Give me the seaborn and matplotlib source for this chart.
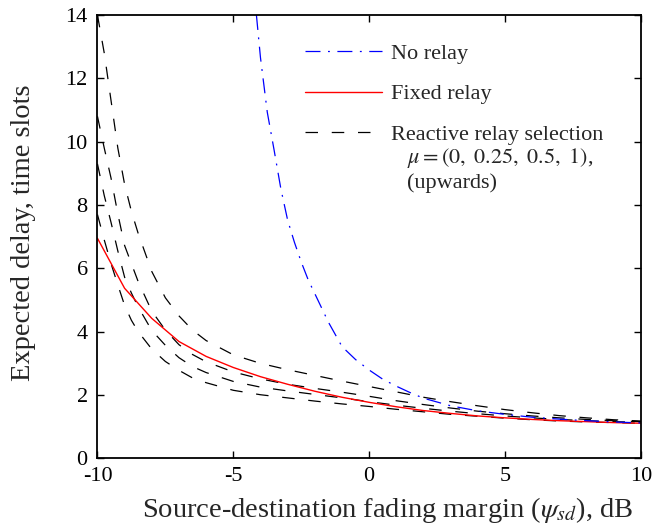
import matplotlib
matplotlib.use("Agg")
import matplotlib.pyplot as plt
import seaborn as sns
import pandas as pd

# data
margin_db = [-10, -9.75, -9.5, -9.25, -9, -8.75, -8.5, -8, -7.5, -7, -6.5, -6,
             -5, -4, -3, -2, -1, 0, 1, 2, 3, 4, 5, 6, 7, 8, 9, 10]

# reactive relay selection, mu = 0, 0.25, 0.5, 1 (bottom to top)
reactive_mu0 = [7.7, 6.9, 6.15, 5.48, 4.83, 4.36, 4.0, 3.45, 3.06, 2.78, 2.54, 2.39,
                2.15, 2.01, 1.91, 1.81, 1.72, 1.64, 1.55, 1.47, 1.39, 1.33, 1.27, 1.22,
                1.18, 1.15, 1.13, 1.11]
reactive_mu025 = [9.3, 8.3, 7.45, 6.55, 5.72, 5.22, 4.78, 4.04, 3.57, 3.18, 2.9, 2.71,
                  2.43, 2.25, 2.13, 2.02, 1.91, 1.79, 1.68, 1.58, 1.49, 1.41, 1.34, 1.28,
                  1.23, 1.19, 1.16, 1.14]
reactive_mu05 = [10.8, 9.8, 8.85, 7.72, 6.72, 6.15, 5.58, 4.65, 4.05, 3.59, 3.28, 3.05,
                 2.73, 2.51, 2.34, 2.21, 2.09, 1.96, 1.82, 1.7, 1.59, 1.49, 1.41, 1.34,
                 1.28, 1.23, 1.19, 1.16]
reactive_mu1 = [14.0, 12.8, 11.3, 9.8, 8.65, 7.8, 7.1, 5.9, 5.07, 4.5, 4.05, 3.72,
                3.27, 3.0, 2.8, 2.62, 2.44, 2.27, 2.1, 1.93, 1.79, 1.66, 1.54, 1.44,
                1.35, 1.28, 1.22, 1.18]

fixed_db = [-10, -9, -8, -7, -6, -5, -4, -3, -2, -1, 0, 1, 2, 3, 4, 5, 6, 7, 8, 9, 10]
fixed_relay = [6.95, 5.37, 4.42, 3.69, 3.22, 2.87, 2.58, 2.34, 2.12, 1.93, 1.77, 1.63,
               1.51, 1.42, 1.34, 1.28, 1.23, 1.19, 1.16, 1.13, 1.11]

norelay_db = [-4.15, -4.0, -3.75, -3.5, -3.25, -3.0, -2.75, -2.5, -2.25, -2.0, -1.5, -1.0,
              -0.5, 0, 0.5, 1, 1.5, 2, 3, 4, 5, 6, 7, 8, 9, 10]
no_relay = [14.0, 12.65, 10.93, 9.74, 8.51, 7.52, 6.82, 6.2, 5.65, 5.2, 4.3, 3.53,
            3.12, 2.79, 2.5, 2.28, 2.08, 1.9, 1.66, 1.5, 1.39, 1.3, 1.24, 1.19, 1.15, 1.12]

sns.set_theme(style="ticks")
plt.rcParams["font.family"] = ["Liberation Serif", "DejaVu Serif"]
plt.rcParams["mathtext.fontset"] = "stix"

fig = plt.figure(figsize=(6.54, 5.24), dpi=100)
ax = fig.add_axes([0.149, 0.1252, 0.831, 0.8462])

dash_style = (0, (10, 11))
reactive = pd.DataFrame({"margin": margin_db, "mu0": reactive_mu0, "mu025": reactive_mu025,
                         "mu05": reactive_mu05, "mu1": reactive_mu1})
for col in ["mu0", "mu025", "mu05", "mu1"]:
    sns.lineplot(data=reactive, x="margin", y=col, ax=ax, color="black", lw=0.9,
                 linestyle=dash_style, estimator=None, sort=False)
reactive_line = ax.lines[-1]

sns.lineplot(x=fixed_db, y=fixed_relay, ax=ax, color="#ff0000", lw=1.0,
             estimator=None, sort=False)
fixed_line = ax.lines[-1]

sns.lineplot(x=norelay_db, y=no_relay, ax=ax, color="#0000ff", lw=0.9,
             linestyle=(0, (12, 6, 1.5, 6)), estimator=None, sort=False)
norelay_line = ax.lines[-1]

ax.set_xlim(-10, 10)
ax.set_ylim(0, 14)
ax.set_xticks([-10, -5, 0, 5, 10])
ax.set_xticklabels(["-10", "-5", "0", "5", "10"])
ax.set_yticks(range(0, 15, 2))
ax.tick_params(direction="in", top=True, right=True, length=5, width=1.0,
               labelsize=16, colors="black")
ax.tick_params(axis="y", pad=7)
ax.tick_params(axis="x", pad=6)
for sp in ax.spines.values():
    sp.set_visible(True)
    sp.set_linewidth(1.3)
    sp.set_color("black")

ax.set_xlabel(r"Source-destination fading margin ($\psi_{sd}$), dB", fontsize=20.5, labelpad=7)
ax.xaxis.label.set_x(0.534)
ax.set_ylabel("Expected delay, time slots", fontsize=20.5, labelpad=21)
ax.yaxis.label.set_y(0.51)

ax.legend([norelay_line, fixed_line, reactive_line],
          ["No relay", "Fixed relay", "Reactive relay selection"],
          loc="upper left", bbox_to_anchor=(0.381, 0.936), frameon=False,
          fontsize=16, handlelength=3.5, handletextpad=0.4, labelspacing=0.9,
          borderpad=0, borderaxespad=0)
ax.text(0.569, 0.678, r"$\mu = (0,\ 0.25,\ 0.5,\ 1)$,", transform=ax.transAxes,
        fontsize=16, va="center", ha="left")
ax.text(0.569, 0.621, "(upwards)", transform=ax.transAxes,
        fontsize=16, va="center", ha="left")

fig.savefig("out.png", dpi=100)
